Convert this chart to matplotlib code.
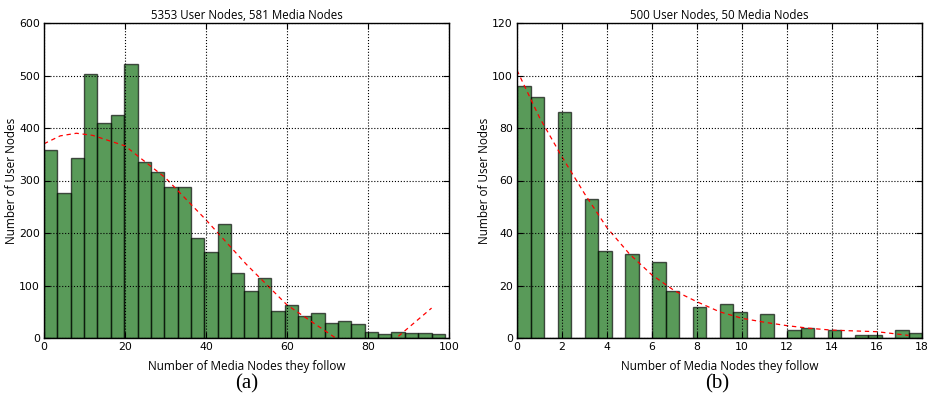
"""Two histograms of how many media nodes each user node follows."""

import matplotlib

matplotlib.use("Agg", force=True)

import matplotlib.pyplot as plt
import numpy as np

# left panel: 30 bins over 0..99
left_counts = [358, 276, 342, 502, 410, 425, 522, 335, 317, 288,
               288, 190, 163, 218, 124, 90, 115, 51, 63, 42,
               47, 28, 32, 27, 12, 7, 12, 10, 9, 7]
left_range = (0, 99)
left_title = "5353 User Nodes, 581 Media Nodes"

# right panel: 30 bins over 0..18 (integer data, so many empty bins)
right_counts = [96, 92, 0, 86, 0, 53, 33, 0, 32, 0,
                29, 18, 0, 12, 0, 13, 10, 0, 9, 0,
                3, 4, 0, 3, 0, 1, 1, 0, 3, 2]
right_range = (0, 18)
right_title = "500 User Nodes, 50 Media Nodes"

# dashed fit curves at a few x positions
left_fit_x = [0, 4, 8, 12, 20, 30, 40, 50, 60, 72, 80, 87, 95.7]
left_fit_y = [370, 385, 390, 386, 366, 305, 225, 140, 63, 0, -22, 0, 57]
right_fit_x = [0, 1, 2, 3, 4, 5, 6, 7, 8, 9, 10, 11, 12, 13, 14, 15, 16, 17.4]
right_fit_y = [102, 84, 69, 55, 42, 32, 24, 18, 13.8, 10, 7.5, 6, 4.7, 3.7, 3.0, 2.7, 2.4, 1.0]

xlabel = "Number of Media Nodes they follow"
ylabel = "Number of User Nodes"


def draw_panel(ax, counts, value_range, fit_x, fit_y, title, xlim, ylim, xticks, yticks):
	edges = np.linspace(value_range[0], value_range[1], len(counts) + 1)
	ax.bar(edges[:-1], counts, width=np.diff(edges), align="edge",
		   color="darkgreen", edgecolor="black", alpha=0.65, linewidth=1.0)
	ax.plot(fit_x, fit_y, "r--", linewidth=0.9, dashes=(3.5, 3))
	ax.set_xlim(*xlim)
	ax.set_ylim(*ylim)
	ax.set_xticks(xticks)
	ax.set_yticks(yticks)
	ax.grid(True, color="black", linestyle=":", linewidth=0.8)
	ax.set_axisbelow(False)
	ax.tick_params(direction="in", top=True, right=True, length=4, labelsize=7.8, pad=3)
	for spine in ax.spines.values():
		spine.set_linewidth(1.0)
	ax.set_title(title, fontsize=8.3, family="Open Sans", pad=3)
	ax.set_xlabel(xlabel, fontsize=8.5, family="Open Sans", labelpad=5.5)
	ax.set_ylabel(ylabel, fontsize=8.5, family="Open Sans", labelpad=0.5)


fig = plt.figure(figsize=(9.36, 3.97), dpi=100)
ax_left = fig.add_axes([44 / 936, 1 - 338 / 397, 405 / 936, 315 / 397])
ax_right = fig.add_axes([517 / 936, 1 - 338 / 397, 405 / 936, 315 / 397])

draw_panel(ax_left, left_counts, left_range, left_fit_x, left_fit_y, left_title,
		   (0, 100), (0, 600), range(0, 101, 20), range(0, 601, 100))
draw_panel(ax_right, right_counts, right_range, right_fit_x, right_fit_y, right_title,
		   (0, 18), (0, 120), range(0, 19, 2), range(0, 121, 20))

fig.text(247 / 936, 1 - 384 / 397, "(a)", ha="center", va="center", fontsize=15, family="Liberation Serif")
fig.text(717 / 936, 1 - 384 / 397, "(b)", ha="center", va="center", fontsize=15, family="Liberation Serif")

fig.savefig("out.png", dpi=100)
plt.close(fig)
